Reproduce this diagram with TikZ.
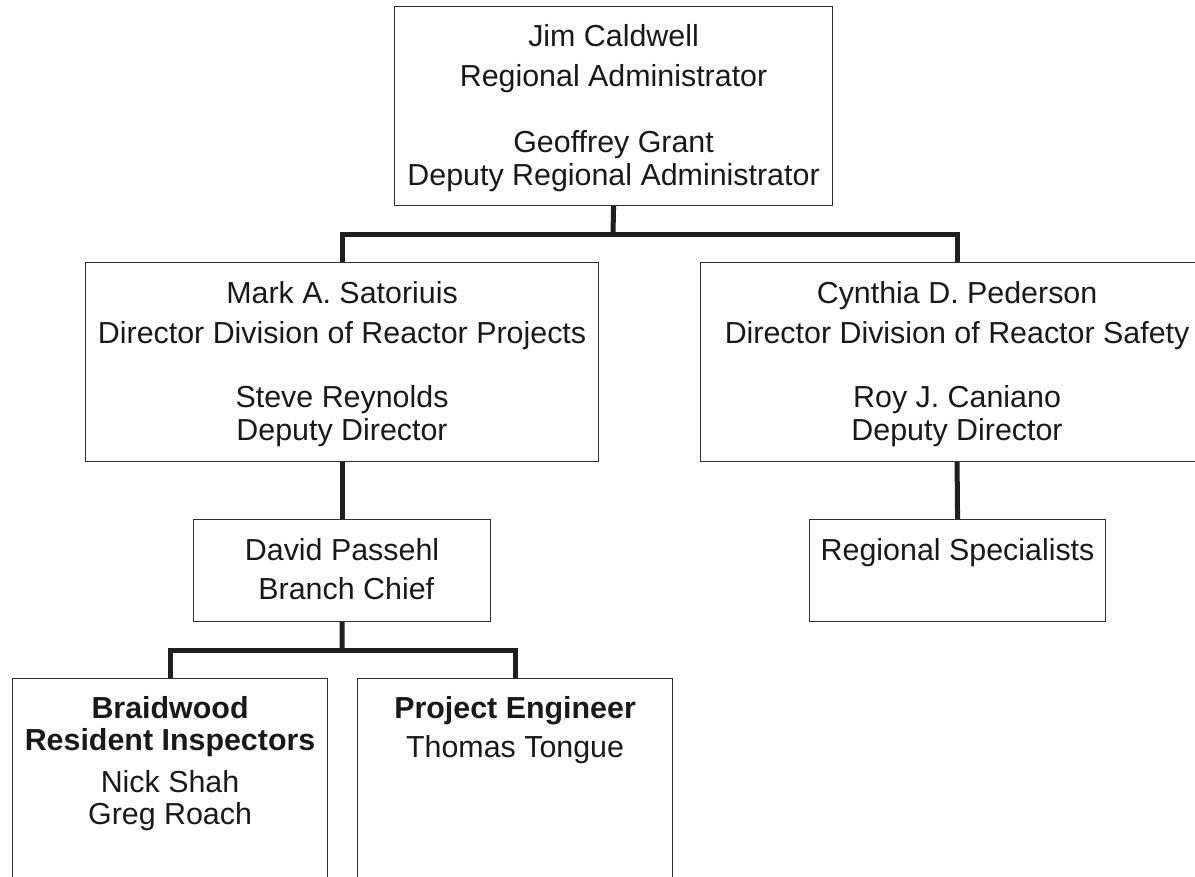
\documentclass[tikz,border=0pt]{standalone}
\usepackage{fontspec}
\setmainfont{Liberation Sans}
\usetikzlibrary{calc}
\begin{document}
\begin{tikzpicture}[x=0.75pt,y=-0.75pt,
  box/.style={draw=black!82, line width=0.85pt, rectangle, inner sep=0pt, anchor=north west},
  conn/.style={draw=black!88, line width=3.75pt, line join=miter, line cap=butt},
  txt/.style={anchor=base, inner sep=0pt, text=black!90, font=\fontsize{22.8}{24.75}\selectfont}]
\useasboundingbox (0,0) rectangle (1195,876);

% boxes
\node[box, minimum width=328.5pt, minimum height=149.25pt] (top) at (394,6) {};
\node[box, minimum width=384.75pt, minimum height=149.25pt] (mark) at (85,262) {};
\node[box, minimum width=384.75pt, minimum height=149.25pt] (cyn) at (700,262) {};
\node[box, minimum width=222.75pt, minimum height=76.5pt] (david) at (193,519) {};
\node[box, minimum width=222pt, minimum height=76.5pt] (reg) at (809,519) {};
\node[box, minimum width=236.25pt, minimum height=180pt] (brd) at (12,678) {};
\node[box, minimum width=236.25pt, minimum height=180pt] (pe) at (357,678) {};

% texts
\node[txt] (topt) at ($(top.north)+(0,40)$) {\begin{tabular}[t]{@{}c@{}}Jim Caldwell\\[5.25pt] Regional Administrator\\[24.75pt] Geoffrey Grant\\ Deputy Regional Administrator\end{tabular}};
\node[txt] (markt) at ($(mark.north)+(0,41)$) {\begin{tabular}[t]{@{}c@{}}Mark A. Satoriuis\\[5.25pt] Director Division of Reactor Projects\\[23.25pt] Steve Reynolds\\ Deputy Director\end{tabular}};
\node[txt] (cynt) at ($(cyn.north)+(0,41)$) {\begin{tabular}[t]{@{}c@{}}Cynthia D. Pederson\\[5.25pt] Director Division of Reactor Safety\\[23.25pt] Roy J. Caniano\\ Deputy Director\end{tabular}};
\node[txt] (davidt) at ($(david.north)+(0,41)$) {\begin{tabular}[t]{@{}c@{}}David Passehl\\[4.5pt] \ Branch Chief\end{tabular}};
\node[txt] (regt) at ($(reg.north)+(0,41)$) {Regional Specialists};
\node[txt] (brdt) at ($(brd.north)+(0,40)$) {\begin{tabular}[t]{@{}c@{}}\textbf{Braidwood}\\[-0.75pt] \textbf{Resident Inspectors}\\[6.75pt] Nick Shah\\[-0.75pt] Greg Roach\end{tabular}};
\node[txt] (pet) at ($(pe.north)+(0,40)$) {\begin{tabular}[t]{@{}c@{}}\textbf{Project Engineer}\\[4.5pt] Thomas Tongue\end{tabular}};

% connectors
\coordinate (bar1) at (613,234.5);
\coordinate (bar2) at (342,650);
\draw[conn] (top.south) -- (bar1);
\draw[conn] (mark.north) |- (bar1) -| (cyn.north);
\draw[conn] (mark.south) -- (david.north);
\draw[conn] (cyn.south) -- (reg.north);
\draw[conn] (david.south) -- (bar2);
\draw[conn] (brd.north) |- (bar2) -| (pe.north);
\end{tikzpicture}
\end{document}
